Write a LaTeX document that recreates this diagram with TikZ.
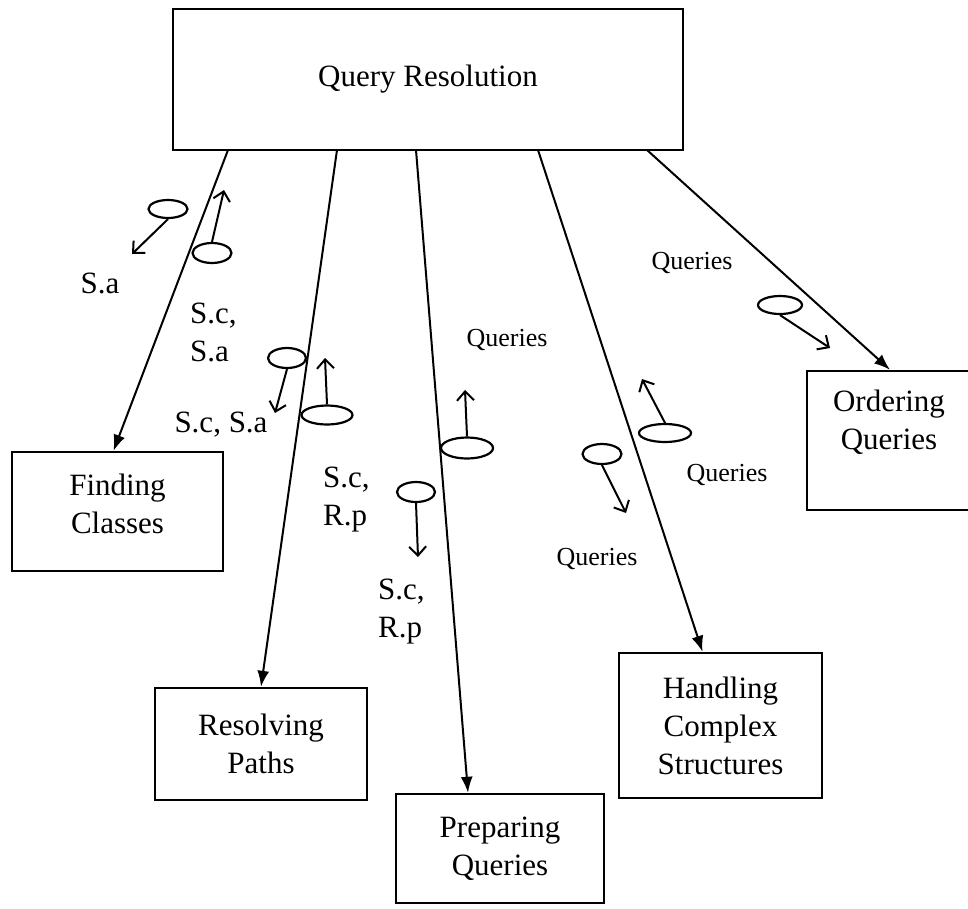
\documentclass[tikz,border=0pt]{standalone}
\usepackage{fontspec}
\setmainfont{Liberation Serif}
\usetikzlibrary{arrows.meta,shapes.geometric}

\newcommand*{\boxfont}{\fontsize{31}{38}\selectfont}
\newcommand*{\qfont}{\fontsize{26}{30}\selectfont}

\begin{document}
\begin{tikzpicture}
[
	x=1pt,y=-1pt,
	module/.style={rectangle,draw,line width=2.4pt,align=center,font=\boxfont,inner sep=0pt},
	token/.style={ellipse,draw,line width=2.2pt,inner sep=0pt},
	flow/.style={line width=2pt,-{Latex[length=16pt,width=12pt]}},
	pass/.style={line width=2pt,-{Straight Barb[length=9pt,width=17pt,line width=2pt]}},
	tag/.style={font=\boxfont,align=left,inner sep=0pt},
	qtag/.style={font=\qfont,inner sep=0pt}
]

	\useasboundingbox (0,0) rectangle (968,908);

	% modules
	\node[module,minimum width=510pt,minimum height=141pt] (qr) at (428,79.5) {Query Resolution};
	\node[module,minimum width=211pt,minimum height=119pt,text depth=16pt] (fc) at (117.5,511.5) {Finding\\Classes};
	\node[module,minimum width=212pt,minimum height=112pt] (rp) at (261,744) {Resolving\\Paths};
	\node[module,minimum width=208pt,minimum height=109pt] (pq) at (500,848.5) {Preparing\\Queries};
	\node[module,minimum width=203pt,minimum height=145pt] (hc) at (720.5,725.5) {Handling\\Complex\\Structures};
	\node[module,minimum width=164pt,minimum height=139pt,text depth=42pt] (oq) at (889,440.5) {Ordering\\Queries};

	% calls out of the query resolution module
	\coordinate (q1) at (228,150);
	\coordinate (q2) at (337,150);
	\coordinate (q3) at (416,150);
	\coordinate (q4) at (538,150);
	\coordinate (q5) at (647,150);
	\draw[flow] (q1) -- ([xshift=-4pt]fc.north);
	\draw[flow] (q2) -- (rp.north);
	\draw[flow] (q3) -- ([xshift=-32pt]pq.north);
	\draw[flow] (q4) -- ([xshift=-18pt]hc.north);
	\draw[flow] (q5) -- ([xshift=1pt]oq.north);

	% data passed along each call
	\node[token,minimum width=39pt,minimum height=18pt] (t1) at (168,209) {};
	\coordinate (e1) at (132,254);
	\draw[pass] (t1.south) -- (e1);
	\node[tag] (l1) at (100,283) {S.a};
	%
	\node[token,minimum width=39pt,minimum height=20pt] (t2) at (212,253) {};
	\coordinate (e2) at (224,190);
	\draw[pass] (t2.north) -- (e2);
	\node[tag,anchor=west] (l2) at (190,332) {S.c,\\S.a};
	%
	\node[token,minimum width=38pt,minimum height=20pt] (t3) at (287,358) {};
	\coordinate (e3) at (275,413);
	\draw[pass] (t3.south) -- (e3);
	\node[tag] (l3) at (221,425) {S.c, S.a};
	%
	\node[token,minimum width=51pt,minimum height=19pt] (t4) at (327,415) {};
	\coordinate (e4) at (325,358);
	\draw[pass] (t4.north) -- (e4);
	\node[tag,anchor=west] (l4) at (323,500) {S.c,\\R.p};
	%
	\node[token,minimum width=38pt,minimum height=20pt] (t6) at (416,492) {};
	\coordinate (e6) at (418,557);
	\draw[pass] (t6.south) -- (e6);
	\node[tag,anchor=west] (l6) at (378,612) {S.c,\\R.p};
	%
	\node[token,minimum width=52pt,minimum height=21pt] (t5) at (467,448) {};
	\coordinate (e5) at (465,390);
	\draw[pass] (t5.north) -- (e5);
	\node[qtag] (l5) at (507,340) {Queries};
	%
	\node[token,minimum width=39pt,minimum height=20pt] (t7) at (602,454) {};
	\coordinate (e7) at (626,513);
	\draw[pass] (t7.south) -- (e7);
	\node[qtag] (l7) at (597,559) {Queries};
	%
	\node[token,minimum width=52pt,minimum height=18pt] (t8) at (665,433) {};
	\coordinate (e8) at (642,379);
	\draw[pass] (t8.north) -- (e8);
	\node[qtag] (l8) at (727,475) {Queries};
	%
	\node[token,minimum width=44pt,minimum height=18pt] (t9) at (780,305) {};
	\coordinate (e9) at (830,348);
	\draw[pass] (t9.south) -- (e9);
	\node[qtag] (l9) at (692,263) {Queries};

\end{tikzpicture}
\end{document}
